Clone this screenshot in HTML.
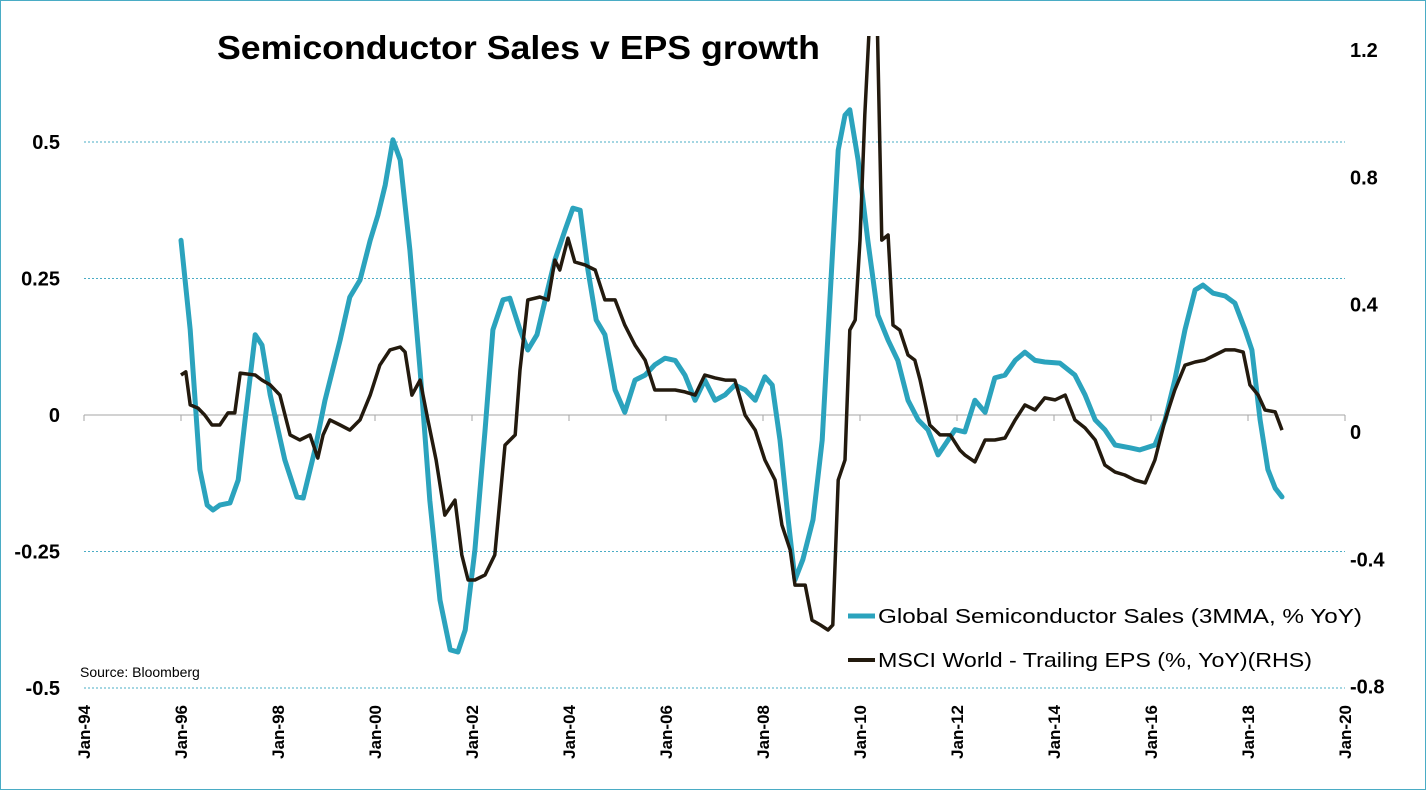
<!DOCTYPE html>
<html><head><meta charset="utf-8"><style>
html,body{margin:0;padding:0;background:#fff;}
svg{display:block;font-family:"Liberation Sans",sans-serif;}
</style></head><body>
<svg id="chart" width="1426" height="790" viewBox="0 0 1426 790" xmlns="http://www.w3.org/2000/svg">
<rect x="0.5" y="0.5" width="1425" height="789" fill="#fff" stroke="#4aacc5" stroke-width="1"/>
<text x="217" y="59" font-size="33" font-weight="bold" textLength="603" lengthAdjust="spacingAndGlyphs" fill="#000">Semiconductor Sales v EPS growth</text>
<g id="grid"></g>
<g id="axes"></g>
<g id="series"></g>
<text x="80" y="677" font-size="14" fill="#000">Source:  Bloomberg</text>
<g>
<line x1="848" y1="616" x2="875" y2="616" stroke="#2ba3bd" stroke-width="5"/>
<text x="878" y="623" font-size="20" textLength="484" lengthAdjust="spacingAndGlyphs">Global Semiconductor Sales (3MMA, % YoY)</text>
<line x1="848" y1="660" x2="875" y2="660" stroke="#231a0e" stroke-width="4"/>
<text x="878" y="667" font-size="20" textLength="434" lengthAdjust="spacingAndGlyphs">MSCI World - Trailing EPS (%, YoY)(RHS)</text>
</g>
</svg>
<script>
const semisDates=[1996.00,1996.19,1996.39,1996.54,1996.66,1996.80,1997.01,1997.18,1997.32,1997.53,1997.67,1997.84,1998.14,1998.39,1998.52,1998.76,1998.97,1999.28,1999.48,1999.69,1999.90,2000.06,2000.21,2000.37,2000.52,2000.72,2000.93,2001.13,2001.34,2001.55,2001.71,2001.86,2002.06,2002.27,2002.43,2002.64,2002.78,2002.99,2003.15,2003.34,2003.51,2003.71,2003.92,2004.08,2004.23,2004.39,2004.56,2004.74,2004.95,2005.15,2005.36,2005.57,2005.77,2005.98,2006.19,2006.39,2006.60,2006.80,2007.01,2007.22,2007.42,2007.63,2007.84,2008.04,2008.19,2008.35,2008.52,2008.66,2008.82,2009.03,2009.22,2009.38,2009.55,2009.69,2009.79,2009.96,2010.16,2010.37,2010.58,2010.78,2010.99,2011.20,2011.40,2011.61,2011.96,2012.16,2012.37,2012.58,2012.78,2012.99,2013.20,2013.40,2013.61,2013.81,2014.12,2014.43,2014.64,2014.85,2015.05,2015.26,2015.57,2015.77,2016.08,2016.29,2016.49,2016.70,2016.91,2017.07,2017.28,2017.53,2017.73,2017.94,2018.08,2018.25,2018.41,2018.56,2018.70];
const semisValues=[0.32,0.156,-0.10,-0.165,-0.174,-0.165,-0.161,-0.119,-0.01,0.147,0.128,0.037,-0.082,-0.15,-0.152,-0.064,0.027,0.137,0.216,0.247,0.32,0.366,0.421,0.504,0.467,0.302,0.082,-0.156,-0.339,-0.43,-0.434,-0.394,-0.247,-0.027,0.156,0.211,0.214,0.156,0.119,0.147,0.211,0.284,0.339,0.379,0.375,0.266,0.174,0.147,0.046,0.005,0.064,0.073,0.092,0.104,0.10,0.073,0.027,0.064,0.027,0.037,0.055,0.046,0.027,0.07,0.055,-0.046,-0.192,-0.302,-0.265,-0.192,-0.046,0.211,0.485,0.549,0.559,0.467,0.32,0.183,0.137,0.10,0.027,-0.009,-0.027,-0.073,-0.027,-0.031,0.027,0.005,0.068,0.073,0.10,0.115,0.10,0.097,0.095,0.073,0.037,-0.009,-0.027,-0.055,-0.06,-0.064,-0.055,-0.009,0.064,0.156,0.229,0.238,0.223,0.218,0.205,0.156,0.119,-0.009,-0.10,-0.134,-0.15];
const epsDates=[1996.00,1996.10,1996.19,1996.35,1996.49,1996.64,1996.80,1996.97,1997.11,1997.22,1997.53,1997.67,1997.84,1998.04,1998.25,1998.45,1998.66,1998.82,1998.93,1999.07,1999.28,1999.48,1999.69,1999.90,2000.10,2000.31,2000.52,2000.62,2000.76,2000.93,2001.09,2001.26,2001.44,2001.65,2001.79,2001.92,2002.06,2002.27,2002.47,2002.68,2002.89,2002.99,2003.15,2003.40,2003.57,2003.71,2003.81,2003.98,2004.12,2004.33,2004.54,2004.74,2004.95,2005.15,2005.36,2005.57,2005.77,2005.98,2006.19,2006.39,2006.60,2006.80,2007.01,2007.22,2007.42,2007.63,2007.84,2008.04,2008.25,2008.39,2008.56,2008.66,2008.87,2009.01,2009.18,2009.34,2009.44,2009.55,2009.69,2009.79,2009.90,2010.00,2010.10,2010.21,2010.35,2010.45,2010.58,2010.68,2010.82,2010.99,2011.13,2011.24,2011.44,2011.65,2011.86,2012.06,2012.16,2012.37,2012.58,2012.78,2012.99,2013.20,2013.40,2013.61,2013.81,2014.02,2014.23,2014.43,2014.64,2014.85,2015.05,2015.26,2015.46,2015.67,2015.88,2016.08,2016.29,2016.49,2016.70,2016.91,2017.11,2017.32,2017.53,2017.73,2017.90,2018.04,2018.21,2018.35,2018.56,2018.70];
const epsValues=[0.179,0.189,0.085,0.075,0.053,0.022,0.022,0.06,0.06,0.185,0.179,0.163,0.148,0.116,-0.009,-0.025,-0.009,-0.082,-0.009,0.038,0.022,0.006,0.038,0.116,0.21,0.258,0.267,0.251,0.116,0.163,0.038,-0.088,-0.261,-0.214,-0.386,-0.465,-0.465,-0.449,-0.386,-0.041,-0.009,0.195,0.415,0.424,0.415,0.54,0.509,0.609,0.534,0.525,0.509,0.415,0.415,0.336,0.273,0.226,0.132,0.132,0.132,0.126,0.116,0.179,0.17,0.163,0.163,0.053,0.006,-0.088,-0.151,-0.292,-0.371,-0.481,-0.481,-0.591,-0.606,-0.622,-0.606,-0.151,-0.088,0.32,0.352,0.603,0.996,1.33,1.33,0.603,0.619,0.336,0.32,0.242,0.226,0.163,0.022,-0.009,-0.009,-0.057,-0.072,-0.094,-0.025,-0.025,-0.019,0.038,0.085,0.069,0.107,0.101,0.116,0.038,0.013,-0.025,-0.104,-0.126,-0.135,-0.151,-0.16,-0.088,0.038,0.132,0.21,0.22,0.226,0.242,0.258,0.258,0.251,0.148,0.116,0.069,0.063,0.006];
const leftTicks=[0.5,0.25,0,-0.25,-0.5];
const leftTickLabels=["0.5","0.25","0","-0.25","-0.5"];
const rightTicks=[1.2,0.8,0.4,0,-0.4,-0.8];
const rightTickLabels=["1.2","0.8","0.4","0","-0.4","-0.8"];
const xTickYears=[1994,1996,1998,2000,2002,2004,2006,2008,2010,2012,2014,2016,2018,2020];
const xTickLabels=["Jan-94","Jan-96","Jan-98","Jan-00","Jan-02","Jan-04","Jan-06","Jan-08","Jan-10","Jan-12","Jan-14","Jan-16","Jan-18","Jan-20"];

const NS="http://www.w3.org/2000/svg";
const xS=y=>84+(y-1994)*48.5;
const yL=v=>415-v*546;
const yR=v=>432-v*318.3;
function mk(tag,attrs,parent){const e=document.createElementNS(NS,tag);for(const k in attrs)e.setAttribute(k,attrs[k]);parent.appendChild(e);return e;}
const grid=document.getElementById('grid'),axes=document.getElementById('axes'),series=document.getElementById('series');

leftTicks.forEach((v,i)=>{
  if(v!==0){const g=mk('line',{x1:84,x2:1345,y1:yL(v),y2:yL(v),stroke:'#4aacc5','stroke-width':1,'stroke-dasharray':'2,2'},grid);
  
  }
  const t=mk('text',{x:60,y:yL(v)+7,'text-anchor':'end','font-size':20,'font-weight':'bold'},axes);
  t.textContent=leftTickLabels[i];
  
  
});
rightTicks.forEach((v,i)=>{
  const t=mk('text',{x:1350,y:yR(v)+7,'font-size':20,'font-weight':'bold'},axes);
  t.textContent=rightTickLabels[i];
  
  
});
const zl=mk('line',{x1:84,x2:1345,y1:yL(0),y2:yL(0),stroke:'#a6a6a6','stroke-width':1},axes);


xTickYears.forEach((yr,i)=>{
  const x=xS(yr);
  const tk=mk('line',{x1:x,x2:x,y1:415,y2:421,stroke:'#a6a6a6'},axes);
  
  
  const t=mk('text',{x:0,y:0,'text-anchor':'end','font-size':17,'font-weight':'bold',transform:`translate(${x+6},705) rotate(-90)`},axes);
  t.textContent=xTickLabels[i];
  
  
});
const defs=mk('defs',{},series);
const cp=mk('clipPath',{id:'plotclip'},defs);
mk('rect',{x:84,y:36,width:1262,height:700},cp);
const semisPath=mk('path',{d:semisDates.map((d,i)=>(i?'L':'M')+xS(d).toFixed(1)+','+yL(semisValues[i]).toFixed(1)).join(''),fill:'none',stroke:'#2ba3bd','stroke-width':5,'stroke-linejoin':'round','stroke-linecap':'round','clip-path':'url(#plotclip)'},series);


const epsPath=mk('path',{d:epsDates.map((d,i)=>(i?'L':'M')+xS(d).toFixed(1)+','+yR(epsValues[i]).toFixed(1)).join(''),fill:'none',stroke:'#231a0e','stroke-width':3.5,'stroke-linejoin':'round','clip-path':'url(#plotclip)'},series);


</script>
</body></html>
